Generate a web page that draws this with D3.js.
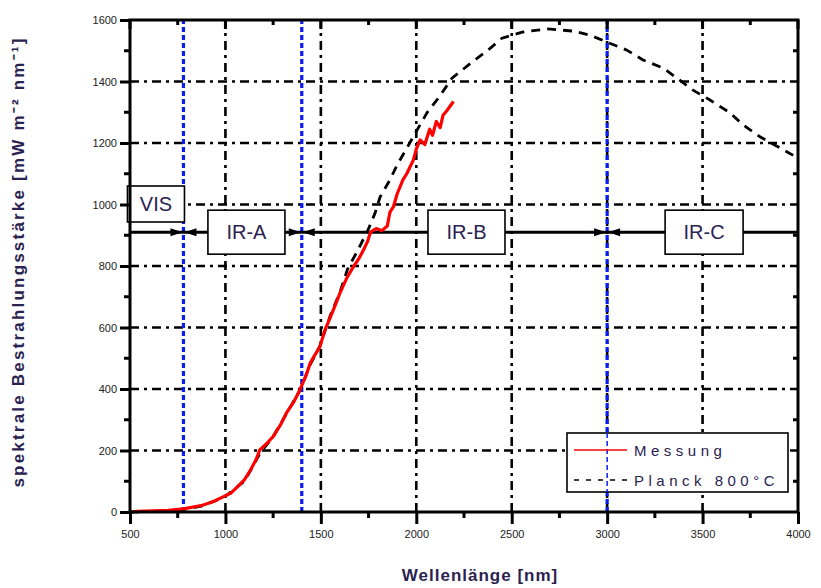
<!DOCTYPE html>
<html>
<head>
<meta charset="utf-8">
<script src="https://cdn.jsdelivr.net/npm/d3@7"></script>
<style>
  body { margin: 0; background: #fff; }
  svg { font-family: "Liberation Sans", Arial, sans-serif; }
</style>
</head>
<body>
<svg id="chart" width="821" height="588"></svg>
<script>
// axis ticks
const xTicks = [500, 1000, 1500, 2000, 2500, 3000, 3500, 4000];
const yTicks = [0, 200, 400, 600, 800, 1000, 1200, 1400, 1600];

const messungNm  = [500, 540, 700, 780, 880, 940, 990, 1030, 1060, 1100, 1130, 1160, 1180, 1215, 1250, 1290, 1320, 1360, 1390, 1420, 1445, 1470, 1495, 1520, 1550, 1575, 1600, 1635, 1670, 1700, 1720, 1745, 1760, 1790, 1820, 1848, 1862, 1880, 1900, 1930, 1950, 1985, 2000, 2020, 2045, 2070, 2085, 2105, 2125, 2140, 2160, 2175, 2195];
const messungVal = [0, 2, 5, 10, 22, 35, 50, 62, 80, 105, 135, 170, 202, 222, 245, 285, 322, 360, 397, 440, 485, 512, 537, 590, 634, 672, 712, 760, 797, 825, 848, 880, 910, 922, 915, 930, 975, 992, 1035, 1080, 1100, 1145, 1180, 1210, 1195, 1245, 1225, 1270, 1250, 1290, 1305, 1318, 1335];

// Planck 800 °C
const planckNm  = [500, 700, 780, 880, 990, 1100, 1180, 1250, 1320, 1390, 1445, 1495, 1550, 1600, 1640, 1694, 1747, 1784, 1810, 1862, 1899, 1951, 2004, 2056, 2124, 2187, 2292, 2376, 2449, 2559, 2685, 2821, 2910, 2999, 3104, 3188, 3293, 3366, 3450, 3539, 3644, 3712, 3801, 3906, 4000];
const planckVal = [0, 3, 8, 20, 47, 100, 190, 245, 320, 395, 480, 540, 640, 715, 790, 852, 917, 972, 1024, 1080, 1128, 1184, 1242, 1298, 1353, 1411, 1463, 1502, 1541, 1561, 1571, 1564, 1551, 1528, 1502, 1470, 1444, 1411, 1372, 1340, 1298, 1259, 1220, 1184, 1151];

// spectral bands
const bandEdges = [780, 1400, 3000];
const bandLabels = ['VIS', 'IR-A', 'IR-B', 'IR-C'];
const bandLabelNm = [636, 1110, 2263, 3508];
const bandLevel = 910;

const legendNames = ['Messung', 'Planck 800\u00b0C'];

const svg = d3.select('#chart');
const mLeft = 130, mRight = 798, mTop = 20, mBottom = 512;

const x = d3.scaleLinear().domain([500, 4000]).range([mLeft, mRight]);
const y = d3.scaleLinear().domain([0, 1600]).range([mBottom, mTop]);

// grid lines, dash-dot
const grid = svg.append('g')
    .attr('stroke', '#000')
    .attr('stroke-width', 2.6)
    .attr('stroke-dasharray', '9,5,3,5');
grid.selectAll('line.gx')
    .data(xTicks.slice(1, -1))
  .enter().append('line')
    .attr('x1', d => x(d)).attr('x2', d => x(d))
    .attr('y1', mBottom).attr('y2', mTop);
grid.selectAll('line.gy')
    .data(yTicks.slice(1, -1))
  .enter().append('line')
    .attr('y1', d => y(d)).attr('y2', d => y(d))
    .attr('x1', mLeft).attr('x2', mRight);

// band boundaries (blue dotted)
svg.append('g').selectAll('line')
    .data(bandEdges)
  .enter().append('line')
    .attr('x1', d => x(d)).attr('x2', d => x(d))
    .attr('y1', mBottom).attr('y2', mTop)
    .attr('stroke', '#0a1cf5')
    .attr('stroke-width', 3.2)
    .attr('stroke-dasharray', '5,3');

// band level line with arrow heads
const bandY = y(bandLevel);
svg.append('line')
    .attr('x1', mLeft).attr('x2', mRight)
    .attr('y1', bandY).attr('y2', bandY)
    .attr('stroke', '#000').attr('stroke-width', 3);
const arrows = svg.append('g').attr('fill', '#000');
bandEdges.forEach(e => {
  const ex = x(e);
  arrows.append('path').attr('d', `M${ex - 1},${bandY} L${ex - 13},${bandY - 4} L${ex - 13},${bandY + 4} Z`);
  arrows.append('path').attr('d', `M${ex + 1},${bandY} L${ex + 13},${bandY - 4} L${ex + 13},${bandY + 4} Z`);
});

// planck curve
const line = d3.line().x(d => x(d[0])).y(d => y(d[1]));
svg.append('path')
    .datum(d3.zip(planckNm, planckVal))
    .attr('d', line)
    .attr('fill', 'none')
    .attr('stroke', '#000')
    .attr('stroke-width', 2.8)
    .attr('stroke-dasharray', '9,7');

// measured curve
svg.append('path')
    .datum(d3.zip(messungNm, messungVal))
    .attr('d', line)
    .attr('fill', 'none')
    .attr('stroke', '#ff0000')
    .attr('stroke-width', 3.2)
    .attr('stroke-linejoin', 'round');

// band label boxes
const boxW = [57, 77, 77, 78];
const boxes = svg.append('g');
bandLabels.forEach((lbl, i) => {
  const cx = x(bandLabelNm[i]);
  const cy = i === 0 ? 204 : bandY;
  const h = i === 0 ? 36 : 44;
  boxes.append('rect')
      .attr('x', cx - boxW[i] / 2).attr('y', cy - h / 2)
      .attr('width', boxW[i]).attr('height', h)
      .attr('fill', '#fff').attr('stroke', '#000').attr('stroke-width', 1.6);
  boxes.append('text')
      .attr('x', cx).attr('y', cy + 7)
      .attr('text-anchor', 'middle')
      .attr('font-size', 20)
      .attr('fill', '#2a2250')
      .text(lbl);
});

// frame
svg.append('rect')
    .attr('x', mLeft).attr('y', mTop)
    .attr('width', mRight - mLeft).attr('height', mBottom - mTop)
    .attr('fill', 'none').attr('stroke', '#000').attr('stroke-width', 3);

// axes
const xMinor = d3.range(750, 4000, 500);
const yMinor = d3.range(100, 1600, 200);
const xAxis = svg.append('g').attr('transform', `translate(0,${mBottom})`)
    .call(d3.axisBottom(x).tickValues(xTicks).tickSize(12).tickFormat(d3.format('d')));
const yAxis = svg.append('g').attr('transform', `translate(${mLeft},0)`)
    .call(d3.axisLeft(y).tickValues(yTicks).tickSize(10).tickFormat(d3.format('d')));
[xAxis, yAxis].forEach(a => {
  a.select('.domain').remove();
  a.selectAll('.tick line').attr('stroke-width', 3);
  a.selectAll('.tick text').attr('font-size', 11).attr('fill', '#222');
});
xAxis.selectAll('.tick text').attr('dy', '1.0em');

const ticks = svg.append('g').attr('stroke', '#000').attr('stroke-width', 3);
xMinor.forEach(v => {
  ticks.append('line').attr('x1', x(v)).attr('x2', x(v)).attr('y1', mBottom).attr('y2', mBottom + 6);
  ticks.append('line').attr('x1', x(v)).attr('x2', x(v)).attr('y1', mTop).attr('y2', mTop + 5);
});
xTicks.forEach(v => {
  ticks.append('line').attr('x1', x(v)).attr('x2', x(v)).attr('y1', mTop).attr('y2', mTop + 9);
});
yMinor.forEach(v => {
  ticks.append('line').attr('x1', mLeft - 6).attr('x2', mLeft).attr('y1', y(v)).attr('y2', y(v));
  ticks.append('line').attr('x1', mRight - 5).attr('x2', mRight).attr('y1', y(v)).attr('y2', y(v));
});

// axis titles
svg.append('text')
    .attr('x', 480).attr('y', 581)
    .attr('text-anchor', 'middle')
    .attr('font-size', 17).attr('font-weight', 'bold')
    .attr('letter-spacing', 1)
    .attr('fill', '#2a2250')
    .text('Wellenlänge [nm]');
svg.append('text')
    .attr('transform', 'translate(24,262) rotate(-90)')
    .attr('text-anchor', 'middle')
    .attr('font-size', 17).attr('font-weight', 'bold')
    .attr('letter-spacing', 2.2)
    .attr('fill', '#2a2250')
    .text('spektrale Bestrahlungsstärke [mW m\u207b\u00b2 nm\u207b\u00b9]');

// legend
const lg = svg.append('g');
lg.append('rect')
    .attr('x', 567).attr('y', 433).attr('width', 221).attr('height', 59)
    .attr('fill', '#fff').attr('stroke', '#000').attr('stroke-width', 1.6);
// blue line of 3000 nm passes through legend
lg.append('line')
    .attr('x1', x(3000)).attr('x2', x(3000)).attr('y1', 433).attr('y2', 492)
    .attr('stroke', '#0a1cf5').attr('stroke-width', 1.5).attr('stroke-dasharray', '5,3');
lg.append('line').attr('x1', 574).attr('x2', 627).attr('y1', 450).attr('y2', 450)
    .attr('stroke', '#ff0000').attr('stroke-width', 1.5);
lg.append('line').attr('x1', 574).attr('x2', 627).attr('y1', 480).attr('y2', 480)
    .attr('stroke', '#000').attr('stroke-width', 1.5).attr('stroke-dasharray', '5,7');
legendNames.forEach((n, i) => {
  lg.append('text')
      .attr('x', 634).attr('y', 456 + i * 30)
      .attr('font-size', 15).attr('letter-spacing', 4.5)
      .attr('fill', '#2a2250')
      .text(n);
});
</script>
</body>
</html>
